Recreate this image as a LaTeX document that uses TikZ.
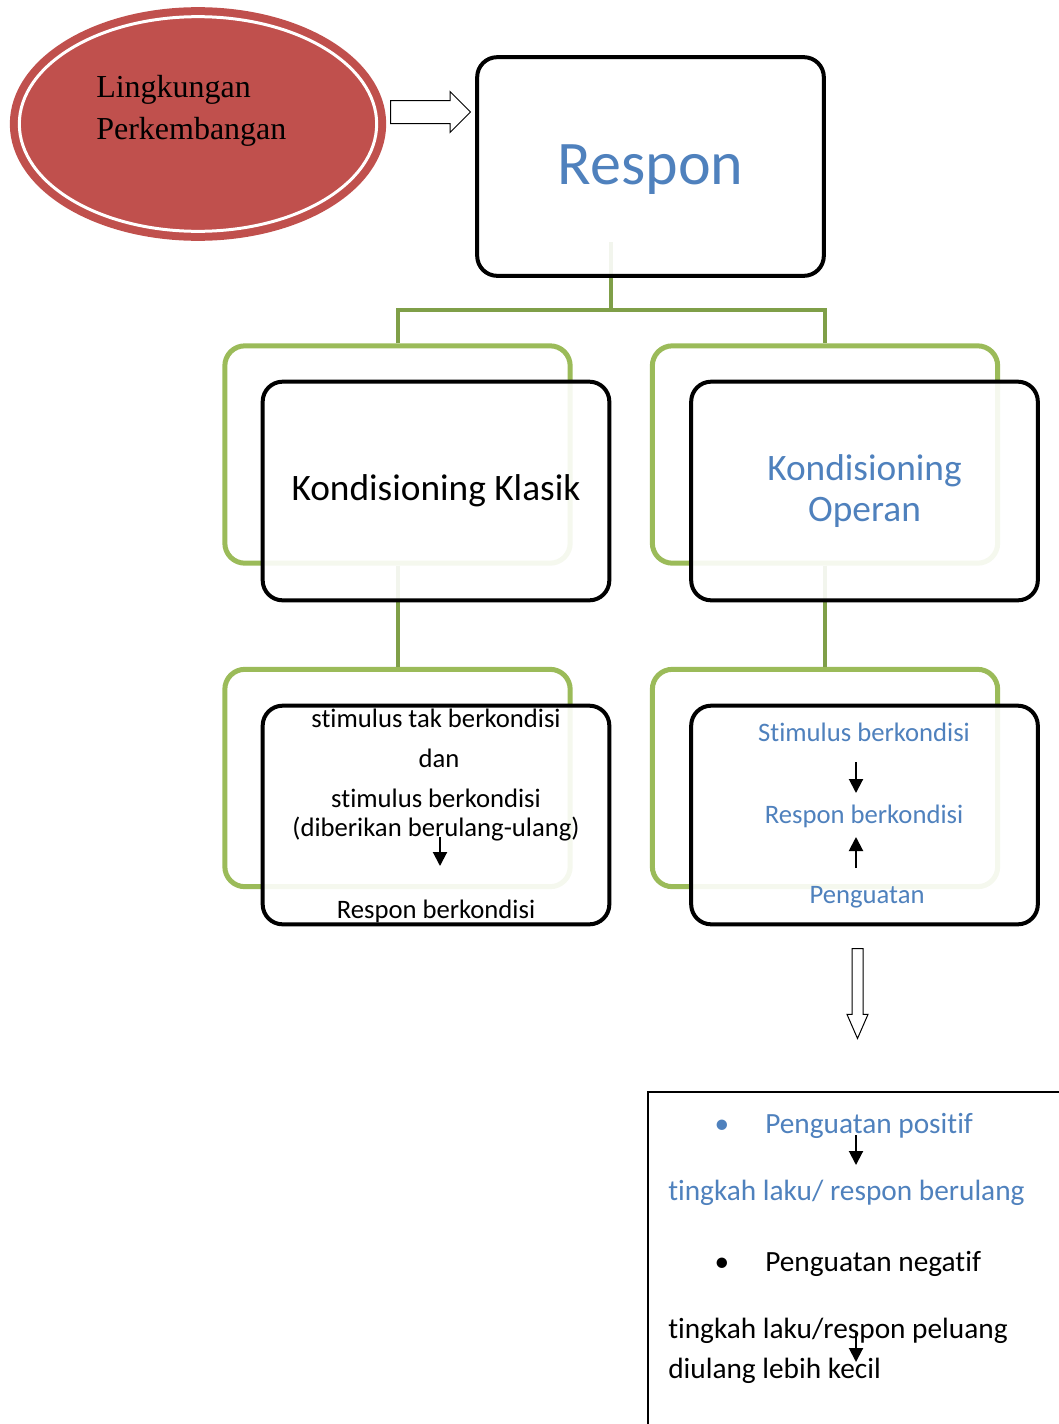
\documentclass[tikz,border=0pt]{standalone}
\usepackage{fontspec}
\setmainfont{Carlito}[Ligatures={NoCommon,NoContextual}]
\newfontfamily\timesfont{Liberation Serif}
\usetikzlibrary{shapes.geometric,shapes.arrows,arrows.meta}
\definecolor{offblue}{HTML}{4F81BD}
\definecolor{offred}{HTML}{C0504D}
\definecolor{offgreen}{HTML}{9BBB59}
\definecolor{linkgreen}{HTML}{7F9F48}
\begin{document}
\begin{tikzpicture}[
        x=0.75pt, y=-0.75pt,
        ring/.style={ellipse, draw=offred, double=white, double distance=2.25pt, line width=6pt, fill=offred, minimum width=268pt, minimum height=161pt},
        gbox/.style={rectangle, draw=offgreen, line width=3.75pt, rounded corners=15pt, minimum width=259pt, minimum height=163pt, inner sep=0pt},
        kbox/.style={rectangle, draw=black, line width=3pt, rounded corners=15pt, fill=white, fill opacity=0.9, text opacity=1, minimum width=260pt, minimum height=164pt, align=center, inner sep=0pt},
        link/.style={draw=linkgreen, line width=3pt},
        harrow/.style={single arrow, draw, fill=white, line width=0.75pt, inner xsep=0pt, anchor=tail},
        tip/.style={-{Triangle[width=10.5pt,length=10.5pt]}, line width=1.5pt},
        lab/.style={font=\fontsize{20pt}{24pt}\selectfont, anchor=base, inner sep=0pt},
        item/.style={font=\fontsize{22pt}{26pt}\selectfont, anchor=base west, inner sep=0pt}
    ]
        \useasboundingbox (0,0) rectangle (1059,1424);

        \node[ring] (ling) at (198,124) {};
        \node[anchor=west, align=left, inner sep=0pt, font=\timesfont\fontsize{24pt}{31.5pt}\selectfont] (lingtxt) at (96,110.5) {Lingkungan\\Perkembangan};
        \node[harrow, minimum height=60pt, inner ysep=8.25pt, single arrow head extend=6.75pt] (push) at (390,112) {};

        % green frames behind
        \node[gbox] (kkg) at (397.5,454.5) {};
        \node[gbox] (kog) at (825,454.5) {};
        \node[gbox] (skg) at (397.5,778) {};
        \node[gbox] (sog) at (825,778) {};

        \coordinate (rsrc) at (611,242);
        \coordinate (hub) at (611,310);
        \draw[link] (rsrc) -- (hub);
        \draw[link] (kkg.north) |- (hub) -| (kog.north);
        \draw[link] (kkg.south) -- (skg.north);
        \draw[link] (kog.south) -- (sog.north);

        % black boxes
        \node[kbox, text=offblue, font=\fontsize{46.5pt}{56pt}\selectfont] (resp) at (650.5,166.5) {\raisebox{-13.5pt}[0pt][0pt]{Respon}};
        \node[kbox, font=\fontsize{28pt}{31pt}\selectfont] (kk) at (436,491) {Kondisioning Klasik};
        \node[kbox, text=offblue, font=\fontsize{28pt}{30.75pt}\selectfont] (ko) at (864.5,491) {Kondisioning\\Operan};
        \node[kbox] (sk) at (436,815) {};
        \node[kbox] (so) at (864.5,815) {};

        \node[lab] (sk1) at (436,727) {stimulus tak berkondisi};
        \node[lab] (sk2) at (439,767) {dan};
        \node[lab] (sk3) at (436,807) {stimulus berkondisi};
        \node[lab] (sk4) at (436,836) {(diberikan berulang-ulang)};
        \node[lab] (sk5) at (436,918) {Respon berkondisi};
        \coordinate (ska) at (440,837);
        \coordinate (skb) at (440,866);
        \draw[tip] (ska) -- (skb);

        \node[lab, text=offblue] (so1) at (864,741) {Stimulus berkondisi};
        \node[lab, text=offblue] (so2) at (864,823) {Respon berkondisi};
        \node[lab, text=offblue] (so3) at (867,903) {Penguatan};
        \coordinate (soa) at (856,762);
        \coordinate (sob) at (856,793);
        \coordinate (soc) at (856,868);
        \coordinate (sod) at (856,837);
        \draw[tip] (soa) -- (sob);
        \draw[tip] (soc) -- (sod);

        \node[harrow, rotate=-90, minimum height=67.5pt, inner ysep=3.75pt, single arrow head extend=3.75pt, single arrow tip angle=47] (down) at (857.5,948) {};

        % reinforcement list
        \draw[line width=1.5pt] (1059,1092) -- (648,1092) -- (648,1424);
        \node[lab, font=\fontsize{22pt}{26pt}\selectfont, text=offblue] (b1) at (722,1133) {•};
        \node[item, text=offblue] (pos) at (765,1133) {Penguatan positif};
        \node[item, text=offblue] (posr) at (668,1200) {tingkah laku/ respon berulang};
        \node[lab, font=\fontsize{22pt}{26pt}\selectfont] (b2) at (722,1271) {•};
        \node[item] (neg) at (765,1271) {Penguatan negatif};
        \node[item] (negr) at (668,1338) {tingkah laku/respon peluang};
        \node[item] (negr2) at (668,1378) {diulang lebih kecil};
        \coordinate (pa) at (856,1135);
        \coordinate (pb) at (856,1165);
        \coordinate (na) at (856,1333);
        \coordinate (nb) at (856,1362);
        \draw[tip] (pa) -- (pb);
        \draw[tip] (na) -- (nb);
    \end{tikzpicture}
\end{document}
